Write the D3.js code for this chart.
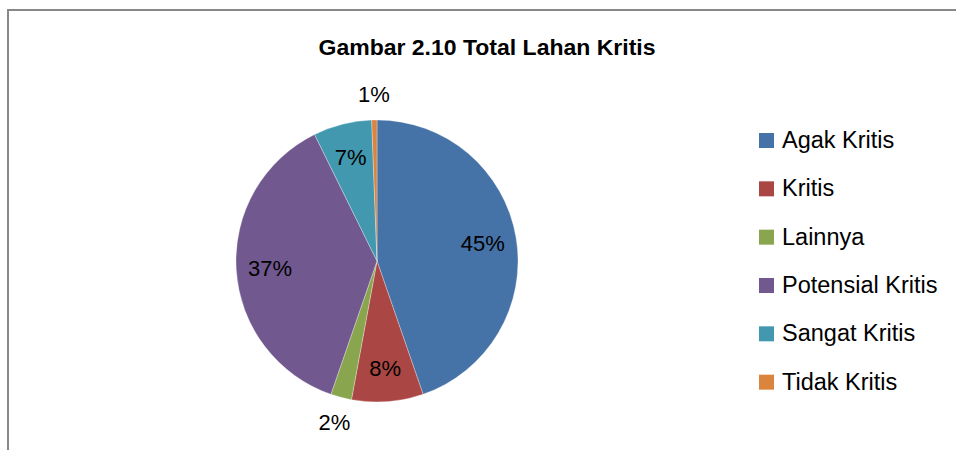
<!DOCTYPE html>
<html>
<head>
<meta charset="utf-8">
<script src="https://cdn.jsdelivr.net/npm/d3@7"></script>
<style>
    body { margin: 0; background: #fff; }
    svg { display: block; font-family: "Liberation Sans", Arial, sans-serif; }
</style>
</head>
<body>
<svg id="chart" width="956" height="450"></svg>
<script>
// data (percent of total)
var categories = ["Agak Kritis", "Kritis", "Lainnya", "Potensial Kritis", "Sangat Kritis", "Tidak Kritis"];
var values = [44.7, 8.2, 2.4, 37.4, 6.7, 0.6];
var colors = ["#4572A7", "#AA4643", "#89A54E", "#71588F", "#4198AF", "#DB843D"];
var title = "Gambar 2.10 Total Lahan Kritis";

var svg = d3.select("#chart");

// frame (only top + left visible in the crop)
svg.append("path")
    .attr("d", "M8,460 L8,10 L970,10")
    .attr("fill", "none")
    .attr("stroke", "#888")
    .attr("stroke-width", 2);

svg.append("text")
    .attr("x", 487)
    .attr("y", 55)
    .attr("text-anchor", "middle")
    .attr("font-weight", "bold")
    .attr("font-size", 22)
    .attr("textLength", 337)
    .attr("lengthAdjust", "spacingAndGlyphs")
    .text(title);

var cx = 377, cy = 261, r = 141;
var total = d3.sum(values);

var data = categories.map(function (c, i) {
    return {name: c, value: values[i], color: colors[i]};
});

var pie = d3.pie()
    .sort(null)
    .value(function (d) { return d.value; });

var arc = d3.arc().innerRadius(0).outerRadius(r);
var inLabel = d3.arc().innerRadius(r * 0.76).outerRadius(r * 0.76);
var outLabel = d3.arc().innerRadius(r + 26).outerRadius(r + 26);

var g = svg.append("g").attr("transform", "translate(" + cx + "," + cy + ")");
var arcs = pie(data);

g.selectAll("path.slice")
    .data(arcs)
    .enter().append("path")
    .attr("class", "slice")
    .attr("d", arc)
    .attr("fill", function (d) { return d.data.color; })
    .attr("stroke", "#fff")
    .attr("stroke-width", 0.5)
    .attr("stroke-opacity", 0.6);

g.selectAll("text.lbl")
    .data(arcs)
    .enter().append("text")
    .attr("class", "lbl")
    .attr("transform", function (d) {
        var small = d.data.value / total < 0.05;
        var p = small ? outLabel.centroid(d) : inLabel.centroid(d);
        return "translate(" + p[0] + "," + p[1] + ")";
    })
    .attr("text-anchor", "middle")
    .attr("dy", "0.36em")
    .attr("font-size", 22)
    .attr("fill", "#000")
    .text(function (d) { return Math.round(d.data.value / total * 100) + "%"; });

// legend
var legendY = d3.scaleBand()
    .domain(categories)
    .range([124, 414]);

var leg = svg.append("g");
var items = leg.selectAll("g")
    .data(data)
    .enter().append("g")
    .attr("transform", function (d) { return "translate(759," + legendY(d.name) + ")"; });

items.append("rect")
    .attr("x", 0)
    .attr("y", 9)
    .attr("width", 15)
    .attr("height", 15)
    .attr("fill", function (d) { return d.color; });

items.append("text")
    .attr("x", 23)
    .attr("y", 24)
    .attr("font-size", 23.5)
    .attr("fill", "#000")
    .text(function (d) { return d.name; });
</script>
</body>
</html>
